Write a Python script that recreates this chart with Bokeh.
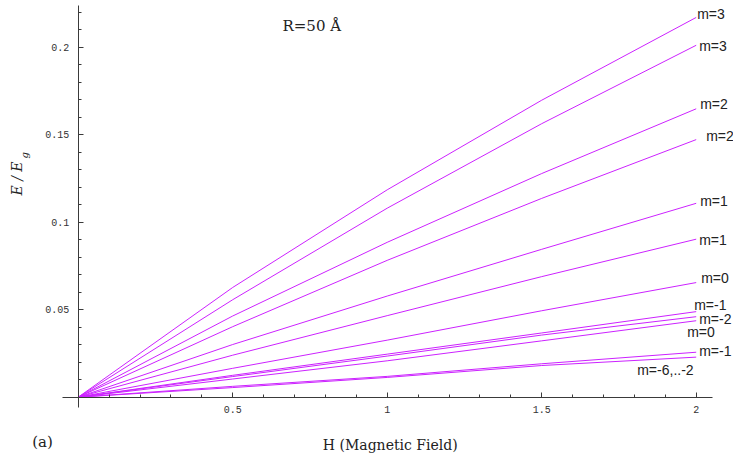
import numpy as np
from bokeh.plotting import figure
from bokeh.models import Range1d, LinearAxis, FixedTicker, Label
from bokeh.embed import file_html
from bokeh.resources import INLINE

# ---------------- data ----------------
H_field = [0.0, 0.5, 1.0, 1.5, 2.0]

E_m3_a = [0.0, 0.0627, 0.1185, 0.1697, 0.2170]
E_m3_b = [0.0, 0.0557, 0.1080, 0.1563, 0.2011]
E_m2_a = [0.0, 0.0464, 0.0885, 0.1278, 0.1648]
E_m2_b = [0.0, 0.0403, 0.0782, 0.1136, 0.1472]
E_m1_a = [0.0, 0.0301, 0.0578, 0.0845, 0.1108]
E_m1_b = [0.0, 0.0240, 0.0466, 0.0689, 0.0903]
E_m0_a = [0.0, 0.0165, 0.0326, 0.0494, 0.0655]
E_mm1_a = [0.0, 0.0125, 0.0246, 0.0367, 0.0489]
E_mm2_a = [0.0, 0.0118, 0.0235, 0.0355, 0.0460]
E_m0_b = [0.0, 0.0104, 0.0208, 0.0322, 0.0437]
E_mm1_b = [0.0, 0.0062, 0.0119, 0.0191, 0.0257]
E_mm6_2 = [0.0, 0.0055, 0.0113, 0.0181, 0.0229]

curves = [E_m3_a, E_m3_b, E_m2_a, E_m2_b, E_m1_a, E_m1_b,
          E_m0_a, E_mm1_a, E_mm2_a, E_m0_b, E_mm1_b, E_mm6_2]
curve_labels = ["m=3", "m=3", "m=2", "m=2", "m=1", "m=1",
                "m=0", "m=-1", "m=-2", "m=0", "m=-1", "m=-6,..-2"]

x_major = [0.5, 1.0, 1.5, 2.0]
y_major = [0.05, 0.1, 0.15, 0.2]

# ---------------- layout (pixels) ----------------
W, HT = 733, 466
AL, AR, AT, AB = 62, 712, 5, 407          # axis line extents (px)
PX_X0, PX_X2 = 77.7, 695.7                # pixel of H=0 and H=2
PX_Y0, PX_Y02 = 396.7, 46.7               # pixel of E=0 and E=0.2

ux = 2.0 / (PX_X2 - PX_X0)
uy = 0.2 / (PX_Y0 - PX_Y02)


def sx(px):
    return (px - PX_X0) * ux


def sy(py):
    return (PX_Y0 - py) * uy


# label offsets (screen px) relative to each curve's end point
lab_dx = [1, 3, 4, 10, 4, 3, 5, -2, 3, -9, 3, -59]
lab_dy = [3, -1, 5, 4, 2, -1, 5, 7, -2, -11, 1, -13]

LINE_COLOR = "#cc22ff"
AXIS_COLOR = "#3a3a3a"
TEXT_COLOR = "#222222"

p = figure(width=W, height=HT,
           x_range=Range1d(sx(0), sx(W)), y_range=Range1d(sy(HT), sy(0)),
           output_backend="svg", toolbar_location=None,
           x_axis_location=None, y_axis_location=None,
           min_border=0, min_border_left=0, min_border_right=0,
           min_border_top=0, min_border_bottom=0,
           outline_line_color=None, background_fill_color="white",
           border_fill_color="white")
p.grid.visible = False

xaxis = LinearAxis(fixed_location=0, bounds=(sx(AL), sx(AR)),
                   ticker=FixedTicker(ticks=x_major,
                                      minor_ticks=list(np.round(np.arange(0.1, 2.01, 0.1), 2))))
yaxis = LinearAxis(fixed_location=0, bounds=(sy(AB), sy(AT)),
                   ticker=FixedTicker(ticks=y_major,
                                      minor_ticks=list(np.round(np.arange(0.01, 0.225, 0.01), 3))))
for ax in (xaxis, yaxis):
    ax.axis_line_color = AXIS_COLOR
    ax.axis_line_width = 1
    ax.major_tick_line_color = AXIS_COLOR
    ax.minor_tick_line_color = AXIS_COLOR
    ax.major_tick_in = 5
    ax.major_tick_out = 0
    ax.minor_tick_in = 3
    ax.minor_tick_out = 0
    ax.major_label_text_font = "Liberation Mono"
    ax.major_label_text_font_size = "10px"
    ax.major_label_text_color = "#333333"
    ax.major_label_standoff = 9
p.add_layout(xaxis, "below")
p.add_layout(yaxis, "left")

for vals in curves:
    p.line(H_field, vals, line_color=LINE_COLOR, line_width=1)

for vals, txt, dx, dy in zip(curves, curve_labels, lab_dx, lab_dy):
    p.add_layout(Label(x=H_field[-1], y=vals[-1], x_offset=dx, y_offset=dy, text=txt,
                       text_font="Liberation Sans", text_font_size="14px",
                       text_color=TEXT_COLOR, text_align="left",
                       text_baseline="alphabetic"))

# title-like annotations
p.add_layout(Label(x=sx(282), y=sy(25), text="R=50 Å", text_font="DejaVu Serif",
                   text_font_size="15px", text_color=TEXT_COLOR,
                   text_align="left", text_baseline="alphabetic"))
p.add_layout(Label(x=sx(392), y=sy(444), text="H  (Magnetic Field)", text_font="DejaVu Serif",
                   text_font_size="14px", text_color=TEXT_COLOR,
                   text_align="center", text_baseline="alphabetic"))
p.add_layout(Label(x=sx(42), y=sy(441), text="(a)", text_font="DejaVu Serif",
                   text_font_size="15px", text_color=TEXT_COLOR,
                   text_align="center", text_baseline="alphabetic"))
p.add_layout(Label(x=sx(16), y=sy(178), text="E / E", text_font="DejaVu Serif",
                   text_font_style="italic", text_font_size="14px", text_color=TEXT_COLOR,
                   text_align="center", text_baseline="alphabetic", angle=np.pi / 2))
p.add_layout(Label(x=sx(24), y=sy(158), text="g", text_font="DejaVu Serif",
                   text_font_style="italic", text_font_size="10px", text_color=TEXT_COLOR,
                   text_align="left", text_baseline="alphabetic", angle=np.pi / 2))

open("out.html", "w").write(file_html(p, INLINE))
